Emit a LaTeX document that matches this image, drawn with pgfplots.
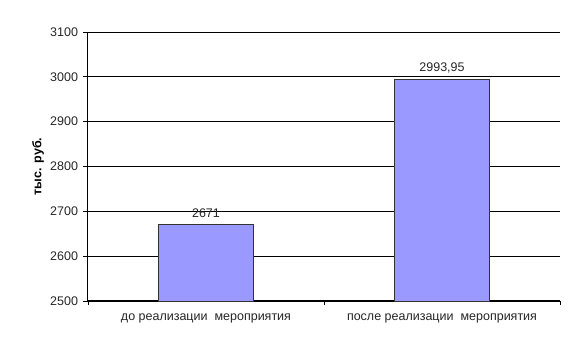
\documentclass[border=0pt]{standalone}
\usepackage{fontspec}
\setmainfont{Liberation Sans}
\usepackage{pgfplots}
\pgfplotsset{compat=1.18}
\definecolor{barfill}{RGB}{153,153,255}
\begin{document}
\begin{tikzpicture}
\path[use as bounding box] (-88pt,-51pt) rectangle (491pt,301pt);
\begin{axis}[
  at={(0,0)}, anchor=south west,
  scale only axis,
  width=472pt, height=269pt,
  xmin=-0.5, xmax=1.5,
  ymin=2500, ymax=3100,
  ytick={2500,2600,...,3100},
  axis x line=bottom, axis y line=left,
  axis line style={-, line width=1pt, black},
  xtick={-0.5,0.5,1.5},
  xticklabels={},
  extra x ticks={0,1},
  extra x tick labels={до реализации\ \ мероприятия, после\ реализации\ \ мероприятия},
  extra x tick style={major tick length=0pt, grid=none, tick label style={yshift=-9pt}},
  tick align=outside,
  major tick length=4.5pt,
  tick style={black, line width=0.9pt},
  ymajorgrids,
  grid style={black, line width=0.8pt},
  /pgf/number format/assume math mode=true,
  /pgf/number format/1000 sep={},
  tick label style={font=\fontsize{12.5}{14}\selectfont, text=black!85},
  yticklabel style={xshift=-2pt},
  ylabel={тыс. руб.},
  every axis y label/.style={at={(axis description cs:-0.106,0.5)}, rotate=90, anchor=center, font=\fontsize{12.5}{14}\selectfont\bfseries},
  clip=false,
]
\addplot[ybar, bar width=0.4, fill=barfill, draw=black!80, line width=0.6pt,
  nodes near coords={\pgfmathprintnumber[use comma,fixed,precision=2,1000 sep={},assume math mode=true]{\pgfplotspointmeta}},
  every node near coord/.style={font=\fontsize{12.5}{14}\selectfont, text=black!85, anchor=south, yshift=3pt}]
  coordinates {(0,2671) (1,2993.95)};
\end{axis}
\end{tikzpicture}
\end{document}
